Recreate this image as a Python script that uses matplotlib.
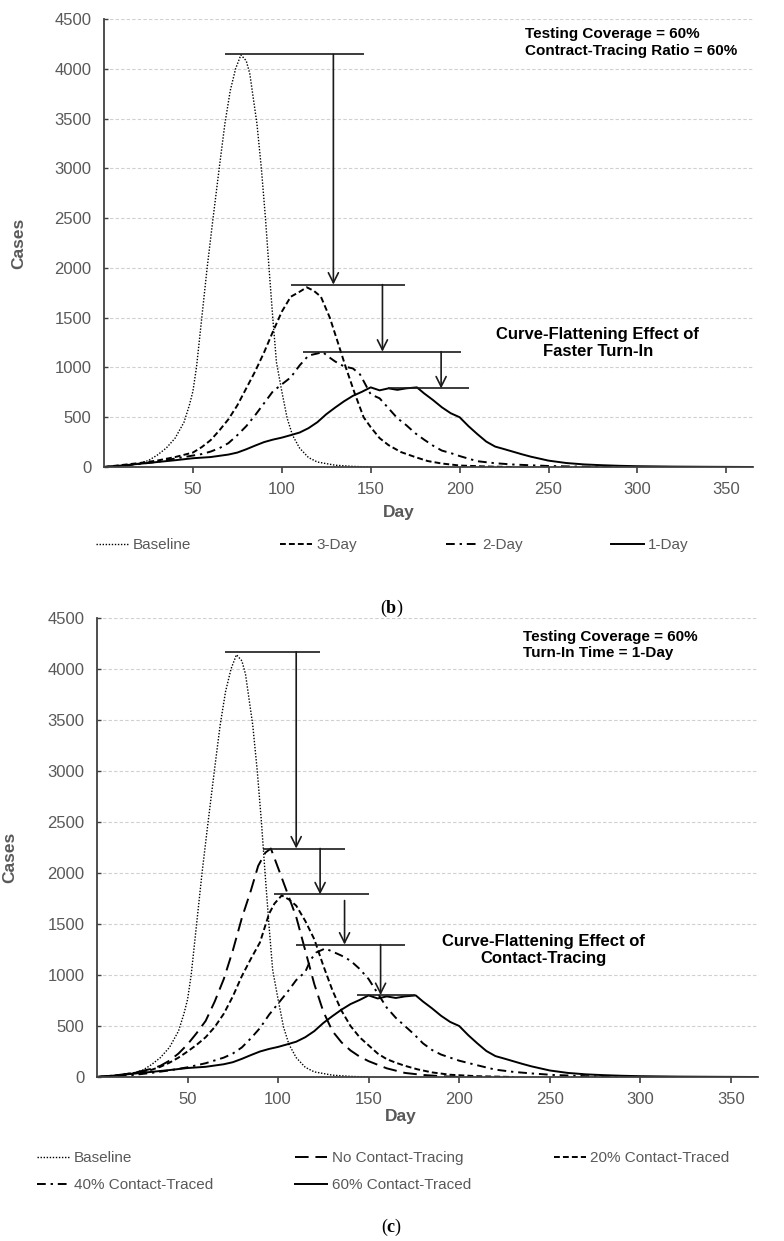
import matplotlib
matplotlib.use("Agg")
import matplotlib.pyplot as plt

plt.rcParams['font.family'] = ['Liberation Sans', 'DejaVu Sans']
plt.rcParams['mathtext.fontset'] = 'custom'
plt.rcParams['mathtext.rm'] = 'Liberation Serif'
plt.rcParams['mathtext.bf'] = 'Liberation Serif:bold'

# ---------------- data ----------------
baseline_day = [0, 10, 20, 25, 30, 35, 40, 45, 48, 50, 52, 55, 58, 61, 65, 68, 71, 74, 77,
                80, 82, 84, 86, 88.5, 90.8, 92.8, 95, 97, 100, 103, 106, 110, 115, 120, 130,
                140, 150]
baseline_cases = [0, 12, 38, 65, 120, 190, 290, 450, 620, 760, 1000, 1500, 2000, 2450, 3030,
                  3450, 3780, 4000, 4140, 4080, 3950, 3700, 3450, 3000, 2500, 2000, 1480, 1050,
                  760, 490, 320, 190, 95, 50, 18, 6, 0]

day3_day = [0, 10, 20, 30, 40, 50, 55, 60, 65, 70, 75, 80, 85, 90, 95, 100, 105, 110, 114,
            118, 122, 127, 131, 136, 141, 146, 150, 155, 160, 167, 175, 182, 190, 200, 215, 230]
day3_cases = [0, 20, 40, 65, 100, 145, 200, 270, 370, 480, 620, 790, 960, 1150, 1360, 1560,
              1710, 1760, 1805, 1770, 1710, 1500, 1280, 1000, 740, 500, 400, 290, 220, 150,
              100, 60, 35, 15, 5, 0]

day2_day = [0, 10, 20, 30, 40, 50, 55, 60, 65, 70, 75, 80, 85, 90, 95, 100, 105, 110, 115,
            120, 123, 126, 130, 135, 140, 144, 150, 155, 160, 165, 170, 175, 180, 185, 190,
            195, 200, 210, 220, 230, 250, 270, 290]
day2_cases = [0, 12, 30, 52, 85, 115, 130, 155, 190, 240, 320, 410, 520, 640, 760, 830, 900,
              1020, 1120, 1140, 1155, 1110, 1060, 1010, 990, 930, 730, 690, 590, 490, 420,
              340, 275, 215, 165, 140, 110, 58, 38, 25, 10, 3, 0]

day1_day = [0, 10, 20, 30, 40, 50, 60, 70, 75, 80, 85, 90, 95, 100, 105, 110, 115, 120, 125,
            130, 135, 140, 145, 150, 155, 160, 165, 170, 176, 180, 185, 190, 195, 200, 205,
            210, 215, 220, 225, 230, 235, 240, 245, 250, 260, 270, 280, 290, 300, 320, 340, 365]
day1_cases = [0, 15, 32, 50, 68, 88, 100, 125, 145, 178, 215, 250, 275, 295, 320, 346, 390,
              450, 530, 597, 660, 715, 755, 800, 770, 790, 775, 790, 800, 740, 673, 600, 540,
              500, 410, 330, 255, 205, 180, 154, 128, 104, 84, 64, 40, 26, 18, 12, 8, 4, 2, 0]

noct_day = [0, 10, 15, 20, 25, 30, 35, 40, 45, 50, 55, 60, 65, 70, 75, 80, 85, 89, 93, 96,
            100, 105, 110, 115, 120, 125, 130, 135, 140, 145, 150, 160, 170, 180, 190, 200]
noct_cases = [0, 15, 26, 40, 60, 80, 110, 160, 230, 320, 430, 550, 740, 960, 1240, 1560,
              1830, 2070, 2200, 2240, 2050, 1810, 1570, 1240, 910, 640, 450, 340, 260, 200,
              155, 85, 40, 20, 8, 0]

ct20_day = [0, 10, 20, 30, 35, 40, 45, 50, 55, 60, 65, 70, 75, 80, 85, 90, 95, 98, 102, 106,
            110, 115, 120, 125, 130, 135, 140, 145, 150, 155, 160, 165, 170, 177, 185, 195,
            210, 230]
ct20_cases = [0, 15, 38, 70, 100, 140, 190, 250, 315, 390, 490, 620, 790, 990, 1160, 1320,
              1600, 1700, 1780, 1740, 1680, 1530, 1350, 1090, 850, 650, 500, 390, 310, 230,
              175, 140, 110, 75, 45, 22, 8, 0]

ct40_day = [0, 10, 20, 30, 40, 50, 60, 70, 75, 80, 85, 90, 95, 100, 105, 110, 115, 118, 121,
            126, 130, 135, 140, 145, 150, 155, 160, 165, 170, 175, 180, 185, 190, 195, 200,
            210, 220, 230, 240, 252, 270, 290, 310]
ct40_cases = [0, 10, 20, 40, 65, 95, 135, 190, 230, 290, 380, 480, 610, 720, 830, 950, 1030,
              1150, 1220, 1260, 1230, 1190, 1140, 1060, 960, 820, 680, 580, 500, 420, 330,
              265, 220, 190, 160, 115, 72, 50, 35, 20, 8, 2, 0]

# peak-reduction markers: (start day, end day, level) and arrows (day, from, to)
b_bars = [(68, 146.5, 4145), (105, 169.4, 1832), (111.8, 201, 1158), (160, 205, 789)]
b_arrows = [(129, 4145, 1832), (156.6, 1832, 1158), (189.6, 1158, 789)]
c_bars = [(70.7, 122.9, 4168), (91.5, 136.7, 2240), (97.6, 150, 1790), (110, 170, 1298),
          (143.7, 175.8, 803)]
c_arrows = [(110, 4168, 2240), (123.2, 2240, 1790), (136.7, 1730, 1298), (156.6, 1298, 803)]

x_ticks = [50, 100, 150, 200, 250, 300, 350]
y_ticks = [0, 500, 1000, 1500, 2000, 2500, 3000, 3500, 4000, 4500]

# ---------------- styles ----------------
GREY = '#595959'
DOT = dict(color='black', lw=1.0, linestyle=(0, (1, 1.2)))
SHORTDASH = dict(color='black', lw=1.4, linestyle=(0, (3, 1.6)))
DASHDOT = dict(color='black', lw=1.4, linestyle=(0, (4.5, 2.5, 1.2, 2.5)))
LONGDASH = dict(color='black', lw=1.4, linestyle=(0, (7, 3.5)))
SOLID = dict(color='black', lw=1.4, linestyle='-')

fig = plt.figure(figsize=(7.84, 12.41), dpi=100)
W, H = 784, 1241


def setup(ax):
    ax.set_xlim(0, 365)
    ax.set_ylim(0, 4500)
    ax.set_xticks(x_ticks)
    ax.set_yticks(y_ticks)
    for s in ('top', 'right'):
        ax.spines[s].set_visible(False)
    for s in ('left', 'bottom'):
        ax.spines[s].set_color('#404040')
        ax.spines[s].set_linewidth(1.3)
    ax.tick_params(axis='x', direction='out', length=4, width=1.2, color='#404040',
                   labelsize=12, labelcolor=GREY, pad=7)
    ax.tick_params(axis='y', direction='in', length=3, width=1.0, color='#404040',
                   labelsize=12, labelcolor=GREY, pad=9)
    ax.grid(axis='y', color='#d0d0d0', linestyle=(0, (3, 2)), lw=0.8)
    ax.set_axisbelow(True)
    ax.set_xlabel('Day', fontsize=12.5, fontweight='bold', color=GREY)
    ax.set_ylabel('Cases', fontsize=12.5, fontweight='bold', color=GREY)


def markers(ax, bars, arrows):
    for x0, x1, y in bars:
        ax.plot([x0, x1], [y, y], color='#1a1a1a', lw=1.2, solid_capstyle='butt', zorder=5)
    for x, y0, y1 in arrows:
        ax.annotate('', xy=(x, y1), xytext=(x, y0),
                    arrowprops=dict(arrowstyle='->', color='#1a1a1a', lw=1.2,
                                    mutation_scale=18, shrinkA=0, shrinkB=0), zorder=5)


# ---------------- panel (b) ----------------
axb = fig.add_axes([104 / W, 1 - 467 / H, (753 - 104) / W, (467 - 19) / H])
setup(axb)
axb.plot(baseline_day, baseline_cases, label='Baseline', **DOT)
axb.plot(day3_day, day3_cases, label='3-Day', **SHORTDASH)
axb.plot(day2_day, day2_cases, label='2-Day', **DASHDOT)
axb.plot(day1_day, day1_cases, label='1-Day', **SOLID)
markers(axb, b_bars, b_arrows)
axb.xaxis.set_label_coords((399 - 104) / 649, -(513 - 467) / 448)
axb.xaxis.label.set_va('center')
axb.yaxis.set_label_coords((26 - 104) / 649, 0.5)
axb.text(0.6487, 0.9475, 'Testing Coverage = 60%\nContract-Tracing Ratio = 60%',
         transform=axb.transAxes, ha='left', va='center', fontsize=11, fontweight='bold',
         linespacing=1.22)
axb.text(0.761, 0.2768, 'Curve-Flattening Effect of\nFaster Turn-In', transform=axb.transAxes,
         ha='center', va='center', fontsize=12, fontweight='bold', multialignment='center',
         linespacing=1.15)

hb, lb = axb.get_legend_handles_labels()
fig.legend(hb, lb, loc='upper left', bbox_to_anchor=(96 / W, 1 - 538 / H), ncol=4,
           frameon=False, fontsize=11, labelcolor=GREY, handlelength=2.1, handletextpad=0.3,
           columnspacing=5.8, borderpad=0, borderaxespad=0)

fig.text(392 / W, 1 - 608 / H, r'$\mathrm{(}\mathbf{b}\mathrm{)}$', ha='center', va='center',
         fontsize=13)

# ---------------- panel (c) ----------------
axc = fig.add_axes([97 / W, 1 - 1077 / H, (758 - 97) / W, (1077 - 618) / H])
setup(axc)
l_base, = axc.plot(baseline_day, baseline_cases, label='Baseline', **DOT)
l_no, = axc.plot(noct_day, noct_cases, label='No Contact-Tracing', **LONGDASH)
l_20, = axc.plot(ct20_day, ct20_cases, label='20% Contact-Traced', **SHORTDASH)
l_40, = axc.plot(ct40_day, ct40_cases, label='40% Contact-Traced', **DASHDOT)
l_60, = axc.plot(day1_day, day1_cases, label='60% Contact-Traced', **SOLID)
markers(axc, c_bars, c_arrows)
axc.xaxis.set_label_coords((401 - 97) / 661, -(1117 - 1077) / 459)
axc.xaxis.label.set_va('center')
axc.yaxis.set_label_coords((17 - 97) / 661, 0.479)
axc.text(0.6445, 0.941, 'Testing Coverage = 60%\nTurn-In Time = 1-Day',
         transform=axc.transAxes, ha='left', va='center', fontsize=11, fontweight='bold',
         linespacing=1.22)
axc.text(0.675, 0.2767, 'Curve-Flattening Effect of\nContact-Tracing', transform=axc.transAxes,
         ha='center', va='center', fontsize=12, fontweight='bold', multialignment='center',
         linespacing=1.15)

handles = [l_base, l_40, l_no, l_60, l_20]
fig.legend(handles, [h.get_label() for h in handles], loc='upper left',
           bbox_to_anchor=(37 / W, 1 - 1151 / H), ncol=3, frameon=False, fontsize=11,
           labelcolor=GREY, handlelength=2.1, handletextpad=0.3, columnspacing=5.4,
           labelspacing=0.85, borderpad=0, borderaxespad=0)

fig.text(392 / W, 1 - 1227 / H, r'$\mathrm{(}\mathbf{c}\mathrm{)}$', ha='center', va='center',
         fontsize=13)

fig.savefig('out.png', dpi=100, facecolor='white')
